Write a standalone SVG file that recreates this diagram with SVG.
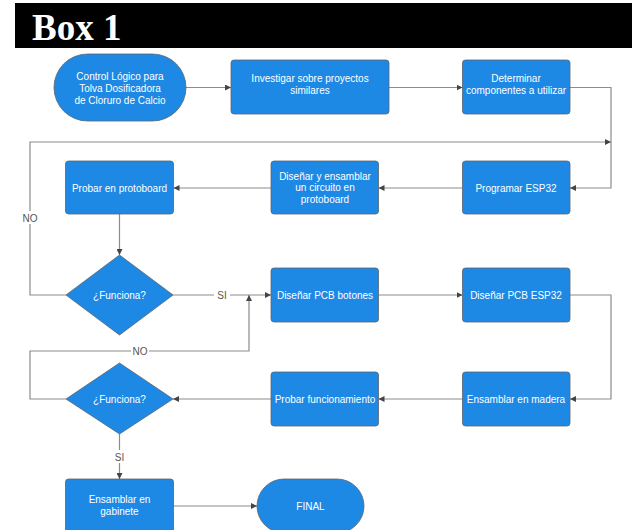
<svg xmlns="http://www.w3.org/2000/svg" width="632" height="530" viewBox="0 0 632 530">
<style>
.n{fill:#1e88e5;stroke:#5a6470;stroke-width:0.8}
.t{font-family:"Liberation Sans",Arial,sans-serif;font-size:10px;fill:#ffffff;text-anchor:middle}
.c{fill:none;stroke:#8c8c8c;stroke-width:1.2}
.l{font-family:"Liberation Sans",Arial,sans-serif;font-size:10px;fill:#555555;text-anchor:middle}
.lb{fill:#ffffff}
</style>
<defs>
<marker id="a" viewBox="0 0 10 10" refX="10" refY="5" markerWidth="6" markerHeight="6" orient="auto" markerUnits="userSpaceOnUse">
<path d="M0,0 L10,5 L0,10 z" fill="#444444"/>
</marker>
</defs>
<rect width="632" height="530" fill="#ffffff"/>
<g id="header">
<rect x="15" y="3" width="617" height="45" fill="#000000"/>
<text x="32" y="39.5" font-family="Liberation Serif,'Times New Roman',serif" font-size="37" font-weight="bold" fill="#ffffff">Box 1</text>
</g>
<g id="connectors">
<path class="c" d="M186,87.5 H231" marker-end="url(#a)"/>
<path class="c" d="M389,87.5 H462.5" marker-end="url(#a)"/>
<path class="c" d="M570,87.5 H611 V188 H570" marker-end="url(#a)"/>
<path class="c" d="M462.5,188 H378.5" marker-end="url(#a)"/>
<path class="c" d="M271,188 H173.5" marker-end="url(#a)"/>
<path class="c" d="M119.5,214 V255" marker-end="url(#a)"/>
<path class="c" d="M66,295 H30 V142 H611" marker-end="url(#a)"/>
<path class="c" d="M173,295 H271" marker-end="url(#a)"/>
<path class="c" d="M378.5,295 H462.5" marker-end="url(#a)"/>
<path class="c" d="M570,295 H611 V399 H570" marker-end="url(#a)"/>
<path class="c" d="M462.5,399 H378.5" marker-end="url(#a)"/>
<path class="c" d="M271,399 H173" marker-end="url(#a)"/>
<path class="c" d="M66,399 H30 V351 H249 V295" marker-end="url(#a)"/>
<path class="c" d="M119.5,434 V479" marker-end="url(#a)"/>
<path class="c" d="M173,506 H257" marker-end="url(#a)"/>
<rect class="lb" x="21" y="211" width="18" height="13"/>
<text class="l" x="30" y="221.5">NO</text>
<rect class="lb" x="214" y="289" width="16" height="13"/>
<text class="l" x="222" y="299">SI</text>
<rect class="lb" x="131" y="345" width="18" height="13"/>
<text class="l" x="140" y="355">NO</text>
<rect class="lb" x="112" y="450" width="15" height="13"/>
<text class="l" x="119.5" y="460.5">SI</text>
</g>
<g id="inicio">
<rect class="n" x="54" y="54" width="132" height="67" rx="33.5"/>
<text class="t"><tspan x="120" y="79.5">Control Lógico para</tspan><tspan x="120" y="91.5">Tolva Dosificadora</tspan><tspan x="120" y="103.5">de Cloruro de Calcio</tspan></text>
</g>
<g id="investigar">
<rect class="n" x="231" y="60" width="158" height="54" rx="3"/>
<text class="t"><tspan x="310" y="82">Investigar sobre proyectos</tspan><tspan x="310" y="94">similares</tspan></text>
</g>
<g id="determinar">
<rect class="n" x="462.5" y="60" width="107.5" height="54" rx="3"/>
<text class="t"><tspan x="516" y="82">Determinar</tspan><tspan x="516" y="94">componentes a utilizar</tspan></text>
</g>
<g id="programar">
<rect class="n" x="462.5" y="161" width="107.5" height="53" rx="3"/>
<text class="t" x="516" y="191.5">Programar ESP32</text>
</g>
<g id="disenar-circuito">
<rect class="n" x="271" y="161" width="107.5" height="53" rx="3"/>
<text class="t"><tspan x="325" y="179.5">Diseñar y ensamblar</tspan><tspan x="325" y="191">un circuito en</tspan><tspan x="325" y="202.5">protoboard</tspan></text>
</g>
<g id="probar-protoboard">
<rect class="n" x="65.5" y="161" width="108" height="53" rx="3"/>
<text class="t" x="119.5" y="191.5">Probar en protoboard</text>
</g>
<g id="funciona1">
<polygon class="n" points="119.5,255 173,295 119.5,335 66,295"/>
<text class="t" x="119.5" y="298.5">¿Funciona?</text>
</g>
<g id="pcb-botones">
<rect class="n" x="271" y="268" width="107.5" height="54" rx="3"/>
<text class="t" x="325" y="298.5">Diseñar PCB botones</text>
</g>
<g id="pcb-esp32">
<rect class="n" x="462.5" y="268" width="107.5" height="54" rx="3"/>
<text class="t" x="516" y="298.5">Diseñar PCB ESP32</text>
</g>
<g id="ensamblar-madera">
<rect class="n" x="462.5" y="372" width="107.5" height="54" rx="3"/>
<text class="t" x="516" y="402.5">Ensamblar en madera</text>
</g>
<g id="probar-funcionamiento">
<rect class="n" x="271" y="372" width="107.5" height="54" rx="3"/>
<text class="t" x="325" y="402.5">Probar funcionamiento</text>
</g>
<g id="funciona2">
<polygon class="n" points="119.5,363 173,399 119.5,434 66,399"/>
<text class="t" x="119.5" y="402.5">¿Funciona?</text>
</g>
<g id="ensamblar-gabinete">
<rect class="n" x="65.5" y="479" width="108" height="54" rx="3"/>
<text class="t"><tspan x="119.5" y="503">Ensamblar en</tspan><tspan x="119.5" y="515">gabinete</tspan></text>
</g>
<g id="final">
<rect class="n" x="257" y="479" width="107" height="54" rx="27"/>
<text class="t" x="310.5" y="509.5">FINAL</text>
</g>
</svg>
